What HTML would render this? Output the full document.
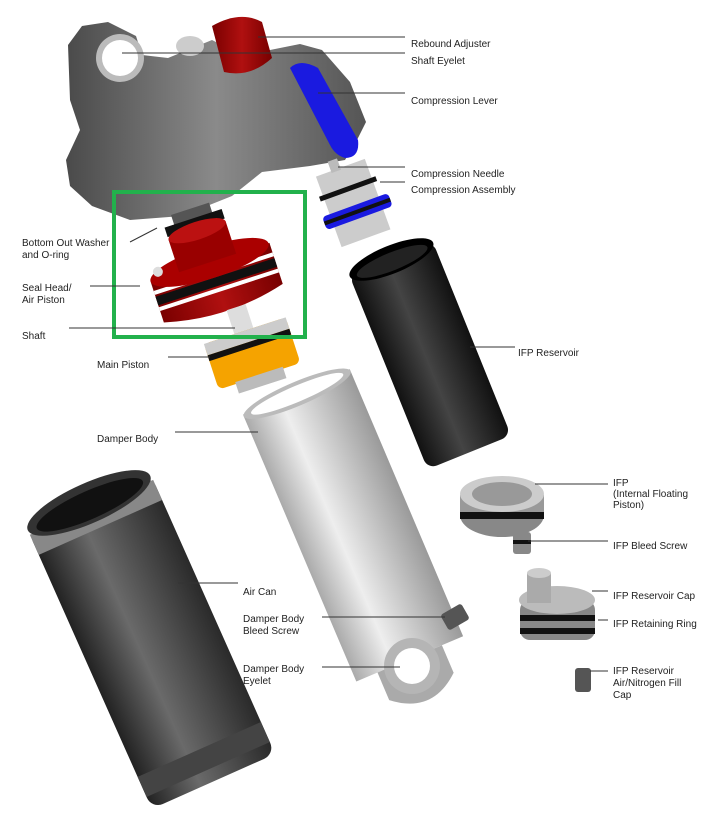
<!DOCTYPE html>
<html><head><meta charset="utf-8"><style>
body{margin:0;background:#fff;width:724px;height:834px;overflow:hidden}
svg{display:block}
text{font-family:"Liberation Sans",sans-serif;font-size:10px;fill:#222}
</style></head><body>
<svg width="724" height="834" viewBox="0 0 724 834">
<defs>
<linearGradient id="gray" x1="0" x2="1"><stop offset="0" stop-color="#4a4a4a"/><stop offset=".5" stop-color="#8a8a8a"/><stop offset="1" stop-color="#555"/></linearGradient>
<linearGradient id="air" x1="0" x2="1"><stop offset="0" stop-color="#222"/><stop offset=".4" stop-color="#6a6a6a"/><stop offset="1" stop-color="#2a2a2a"/></linearGradient>
<linearGradient id="blk" x1="0" x2="1"><stop offset="0" stop-color="#111"/><stop offset=".45" stop-color="#444"/><stop offset="1" stop-color="#111"/></linearGradient>
<linearGradient id="sil" x1="0" x2="1"><stop offset="0" stop-color="#aaa"/><stop offset=".35" stop-color="#eee"/><stop offset="1" stop-color="#9a9a9a"/></linearGradient>
<linearGradient id="red" x1="0" x2="1"><stop offset="0" stop-color="#7a0000"/><stop offset=".5" stop-color="#b01010"/><stop offset="1" stop-color="#700"/></linearGradient>
</defs>
<!-- top body -->
<path d="M68,45 L82,26 L108,22 L136,36 L142,55 L168,58 L212,40 L232,50 L270,50 L300,44 L322,50 L350,82 L366,122 L356,142 L345,160 L310,166 L262,172 L232,196 L182,216 L130,220 L92,206 L70,186 L66,160 L80,130 L70,100 Z" fill="url(#gray)"/>
<circle cx="120" cy="58" r="24" fill="#bbb"/><circle cx="120" cy="58" r="18" fill="#fff"/>
<ellipse cx="190" cy="46" rx="14" ry="10" fill="#ccc"/>
<path d="M212,26 Q240,10 262,22 L272,58 Q250,78 224,72 Z" fill="url(#red)"/>
<path d="M290,68 Q300,58 318,68 L358,140 Q360,158 345,158 Q335,155 330,145 Z" fill="#1a1ae0"/>
<!-- compression assembly -->
<g transform="rotate(-20 355 205)">
<rect x="328" y="165" width="52" height="75" fill="#ccc"/>
<rect x="324" y="185" width="60" height="5" fill="#111"/>
<rect x="320" y="205" width="70" height="14" rx="4" fill="#1a1ae0"/><rect x="320" y="210" width="70" height="4" fill="#111"/>
<rect x="344" y="155" width="10" height="12" fill="#bbb"/>
</g>
<!-- IFP reservoir -->
<g transform="rotate(-22 430 355)">
<rect x="385" y="250" width="90" height="210" rx="10" fill="url(#blk)"/>
<ellipse cx="430" cy="252" rx="45" ry="14" fill="#000"/><ellipse cx="430" cy="254" rx="38" ry="9" fill="#222"/>
</g>
<!-- seal head -->
<g transform="rotate(-18 212 270)">
<rect x="190" y="205" width="40" height="25" fill="#555"/>
<rect x="180" y="215" width="60" height="10" fill="#111"/>
<path d="M150,262 L275,262 L275,305 Q212,322 150,305 Z" fill="url(#red)"/>
<rect x="150" y="272" width="125" height="4" fill="#fff"/><rect x="150" y="278" width="125" height="9" fill="#111"/><rect x="150" y="289" width="125" height="4" fill="#fff"/>
<ellipse cx="212" cy="262" rx="62" ry="16" fill="#a00"/>
<rect x="180" y="228" width="60" height="34" fill="#900"/><ellipse cx="210" cy="228" rx="30" ry="9" fill="#b11"/>
<circle cx="160" cy="255" r="5" fill="#ddd"/>
</g>
<!-- main piston -->
<g transform="rotate(-18 250 350)">
<rect x="240" y="305" width="20" height="30" fill="#ddd"/>
<rect x="208" y="330" width="86" height="48" rx="6" fill="#f5a300"/>
<rect x="208" y="330" width="86" height="12" fill="#ccc"/><rect x="208" y="342" width="86" height="6" fill="#111"/>
<rect x="226" y="376" width="50" height="12" fill="#bbb"/>
</g>
<!-- damper body -->
<g transform="rotate(-23 355 530)">
<rect x="297" y="380" width="116" height="290" fill="url(#sil)"/>
<ellipse cx="355" cy="382" rx="58" ry="12" fill="#bbb"/><ellipse cx="355" cy="382" rx="50" ry="8" fill="#fff"/>
<path d="M320,670 L390,670 L390,700 Q355,730 320,700 Z" fill="#aaa"/>
</g>
<circle cx="412" cy="666" r="28" fill="#b5b5b5"/><circle cx="412" cy="666" r="18" fill="#fff"/>
<!-- air can -->
<g transform="rotate(-24 150 640)">
<rect x="83" y="490" width="135" height="305" rx="12" fill="url(#air)"/>
<rect x="83" y="495" width="135" height="22" fill="#888"/>
<rect x="83" y="760" width="135" height="22" fill="#444"/>
<ellipse cx="150" cy="490" rx="67" ry="20" fill="#333"/><ellipse cx="150" cy="492" rx="58" ry="14" fill="#111"/>
</g>
<!-- IFP -->
<ellipse cx="502" cy="515" rx="42" ry="22" fill="#888"/><rect x="460" y="495" width="84" height="20" fill="#999"/>
<rect x="460" y="512" width="84" height="7" fill="#111"/>
<ellipse cx="502" cy="494" rx="42" ry="18" fill="#ccc"/><ellipse cx="502" cy="494" rx="30" ry="12" fill="#999"/>
<rect x="513" y="532" width="18" height="22" rx="3" fill="#888"/><rect x="513" y="540" width="18" height="4" fill="#111"/>
<!-- IFP cap -->
<rect x="520" y="600" width="75" height="40" rx="10" fill="#888"/>
<rect x="520" y="615" width="75" height="6" fill="#111"/><rect x="520" y="628" width="75" height="6" fill="#111"/>
<ellipse cx="557" cy="600" rx="38" ry="14" fill="#bbb"/>
<rect x="527" y="573" width="24" height="30" fill="#aaa"/><ellipse cx="539" cy="573" rx="12" ry="5" fill="#ccc"/>
<rect x="575" y="668" width="16" height="24" rx="3" fill="#555"/>
<rect x="446" y="605" width="18" height="24" rx="3" transform="rotate(60 455 617)" fill="#555"/>
<!-- green box -->
<rect x="114" y="192" width="191" height="145" fill="none" stroke="#22b14c" stroke-width="4"/>
<!-- leader lines -->
<g stroke="#333" stroke-width="1">
<line x1="258" y1="37" x2="405" y2="37"/>
<line x1="122" y1="53" x2="405" y2="53"/>
<line x1="318" y1="93" x2="405" y2="93"/>
<line x1="338" y1="167" x2="405" y2="167"/>
<line x1="380" y1="182" x2="405" y2="182"/>
<line x1="470" y1="347" x2="515" y2="347"/>
<line x1="535" y1="484" x2="608" y2="484"/>
<line x1="528" y1="541" x2="608" y2="541"/>
<line x1="592" y1="591" x2="608" y2="591"/>
<line x1="598" y1="620" x2="608" y2="620"/>
<line x1="590" y1="671" x2="608" y2="671"/>
<line x1="130" y1="242" x2="157" y2="228"/>
<line x1="90" y1="286" x2="140" y2="286"/>
<line x1="69" y1="328" x2="235" y2="328"/>
<line x1="168" y1="357" x2="210" y2="357"/>
<line x1="175" y1="432" x2="258" y2="432"/>
<line x1="178" y1="583" x2="238" y2="583"/>
<line x1="322" y1="617" x2="445" y2="617"/>
<line x1="322" y1="667" x2="400" y2="667"/>
</g>
<text x="411" y="47">Rebound Adjuster</text>
<text x="411" y="64">Shaft Eyelet</text>
<text x="411" y="104">Compression Lever</text>
<text x="411" y="177">Compression Needle</text>
<text x="411" y="193">Compression Assembly</text>
<text x="518" y="356">IFP Reservoir</text>
<text x="613" y="486">IFP</text><text x="613" y="497">(Internal Floating</text><text x="613" y="508">Piston)</text>
<text x="613" y="549">IFP Bleed Screw</text>
<text x="613" y="599">IFP Reservoir Cap</text>
<text x="613" y="627">IFP Retaining Ring</text>
<text x="613" y="674">IFP Reservoir</text><text x="613" y="686">Air/Nitrogen Fill</text><text x="613" y="698">Cap</text>
<text x="22" y="246">Bottom Out Washer</text><text x="22" y="258">and O-ring</text>
<text x="22" y="291">Seal Head/</text><text x="22" y="303">Air Piston</text>
<text x="22" y="339">Shaft</text>
<text x="97" y="368">Main Piston</text>
<text x="97" y="442">Damper Body</text>
<text x="243" y="595">Air Can</text>
<text x="243" y="622">Damper Body</text><text x="243" y="634">Bleed Screw</text>
<text x="243" y="672">Damper Body</text><text x="243" y="684">Eyelet</text>
</svg>
</body></html>
